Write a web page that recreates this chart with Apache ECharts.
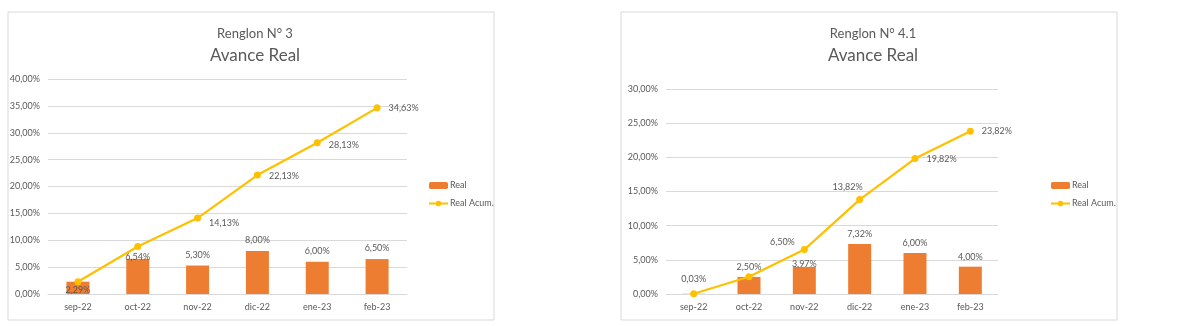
<!DOCTYPE html>
<html><head><meta charset="utf-8">
<script src="https://cdn.jsdelivr.net/npm/echarts@6/dist/echarts.min.js"></script>
<style>html,body{margin:0;padding:0;background:#fff}#c{width:1197px;height:326px}</style>
</head><body><div id="c"></div>
<script>
const categories = ['sep-22','oct-22','nov-22','dic-22','ene-23','feb-23'];
const realA = [2.29, 6.54, 5.30, 8.00, 6.00, 6.50];
const acumA = [2.29, 8.83, 14.13, 22.13, 28.13, 34.63];
const realB = [0.03, 2.50, 3.97, 7.32, 6.00, 4.00];
const acumB = [0.03, 2.53, 6.50, 13.82, 19.82, 23.82];
const titleA = 'Renglon N° 3';
const titleB = 'Renglon N° 4.1';
const subtitle = 'Avance Real';

const FONT = 'Lato';
const TXT = '#595959';
const fmt = v => Number(v).toFixed(2).replace('.', ',') + '%';
const lbl = {fontFamily: FONT, fontSize: 9, color: TXT, formatter: p => fmt(p.value)};

function barData(arr, overrides) {
  return arr.map((v, i) => overrides[i] ? {value: v, label: overrides[i]} : v);
}
function lineData(arr, overrides) {
  return arr.map((v, i) => overrides[i] ? {value: v, label: overrides[i]} : {value: v, label: {show: false}});
}

const chart = echarts.init(document.getElementById('c'));
const yAxisCommon = {
  type: 'value', min: 0, interval: 5,
  axisLine: {show: false}, axisTick: {show: false},
  axisLabel: {fontFamily: FONT, fontSize: 9, color: TXT, formatter: fmt, margin: 8},
  splitLine: {lineStyle: {color: '#d9d9d9'}}
};
const xAxisCommon = {
  type: 'category', data: categories,
  axisLine: {lineStyle: {color: '#d9d9d9'}}, axisTick: {show: false},
  axisLabel: {fontFamily: FONT, fontSize: 9, color: TXT, margin: 9}
};
const legendCommon = {
  orient: 'vertical', data: ['Real', 'Real Acum.'], itemWidth: 19, itemHeight: 7, itemGap: 9,
  textStyle: {fontFamily: FONT, fontSize: 9, color: TXT, padding: [0, 0, 0, -3]}, selectedMode: false
};
chart.setOption({
  animation: false,
  graphic: [
    {type: 'rect', shape: {x: 8, y: 12, width: 486, height: 308}, style: {fill: 'none', stroke: '#d9d9d9', lineWidth: 1}},
    {type: 'rect', shape: {x: 621, y: 12, width: 496, height: 308}, style: {fill: 'none', stroke: '#d9d9d9', lineWidth: 1}}
  ],
  title: [
    {text: titleA, left: 250, top: 22, textAlign: 'center', textStyle: {fontFamily: FONT, fontSize: 13, fontWeight: 'normal', color: TXT}},
    {text: subtitle, left: 250, top: 42, textAlign: 'center', textStyle: {fontFamily: FONT, fontSize: 17, fontWeight: 'normal', color: TXT}},
    {text: titleB, left: 868, top: 22, textAlign: 'center', textStyle: {fontFamily: FONT, fontSize: 13, fontWeight: 'normal', color: TXT}},
    {text: subtitle, left: 868, top: 42, textAlign: 'center', textStyle: {fontFamily: FONT, fontSize: 17, fontWeight: 'normal', color: TXT}}
  ],
  legend: [
    Object.assign({left: 423, top: 176}, legendCommon),
    Object.assign({left: 1045, top: 176}, legendCommon)
  ],
  grid: [
    {left: 48, right: 790, top: 79, bottom: 32},
    {left: 666, right: 199, top: 89, bottom: 32}
  ],
  xAxis: [
    Object.assign({gridIndex: 0}, xAxisCommon),
    Object.assign({gridIndex: 1}, xAxisCommon)
  ],
  yAxis: [
    Object.assign({gridIndex: 0, max: 40}, yAxisCommon),
    Object.assign({gridIndex: 1, max: 30}, yAxisCommon)
  ],
  series: [
    {name: 'Real', type: 'bar', xAxisIndex: 0, yAxisIndex: 0, barWidth: 23,
     itemStyle: {color: '#ED7D31'},
     label: Object.assign({show: true, position: 'top', distance: 6}, lbl),
     data: barData(realA, {0: {position: 'insideBottom', distance: -1}, 1: {position: 'top', distance: -3}})},
    {name: 'Real Acum.', type: 'line', xAxisIndex: 0, yAxisIndex: 0,
     itemStyle: {color: '#FFC000'}, lineStyle: {color: '#FFC000', width: 2.25},
     symbol: 'circle', symbolSize: 7,
     label: Object.assign({show: true, position: 'right', distance: 8}, lbl),
     data: lineData(acumA, {2: {show: true, offset: [0, 5]}, 3: {show: true, offset: [0, 1]}, 4: {show: true, offset: [0, 2]}, 5: {show: true}})},
    {name: 'Real', type: 'bar', xAxisIndex: 1, yAxisIndex: 1, barWidth: 23,
     itemStyle: {color: '#ED7D31'},
     label: Object.assign({show: true, position: 'top', distance: 5}, lbl),
     data: barData(realB, {0: {position: 'top', distance: 10}, 2: {position: 'top', distance: -2}})},
    {name: 'Real Acum.', type: 'line', xAxisIndex: 1, yAxisIndex: 1,
     itemStyle: {color: '#FFC000'}, lineStyle: {color: '#FFC000', width: 2.25},
     symbol: 'circle', symbolSize: 7,
     label: Object.assign({show: true, position: 'right', distance: 8}, lbl),
     data: lineData(acumB, {2: {show: true, position: 'left', distance: 6, offset: [0, -7]}, 3: {show: true, position: 'top', distance: 4, offset: [-12, 0]}, 4: {show: true, offset: [0, 1]}, 5: {show: true}})}
  ]
});
</script></body></html>
